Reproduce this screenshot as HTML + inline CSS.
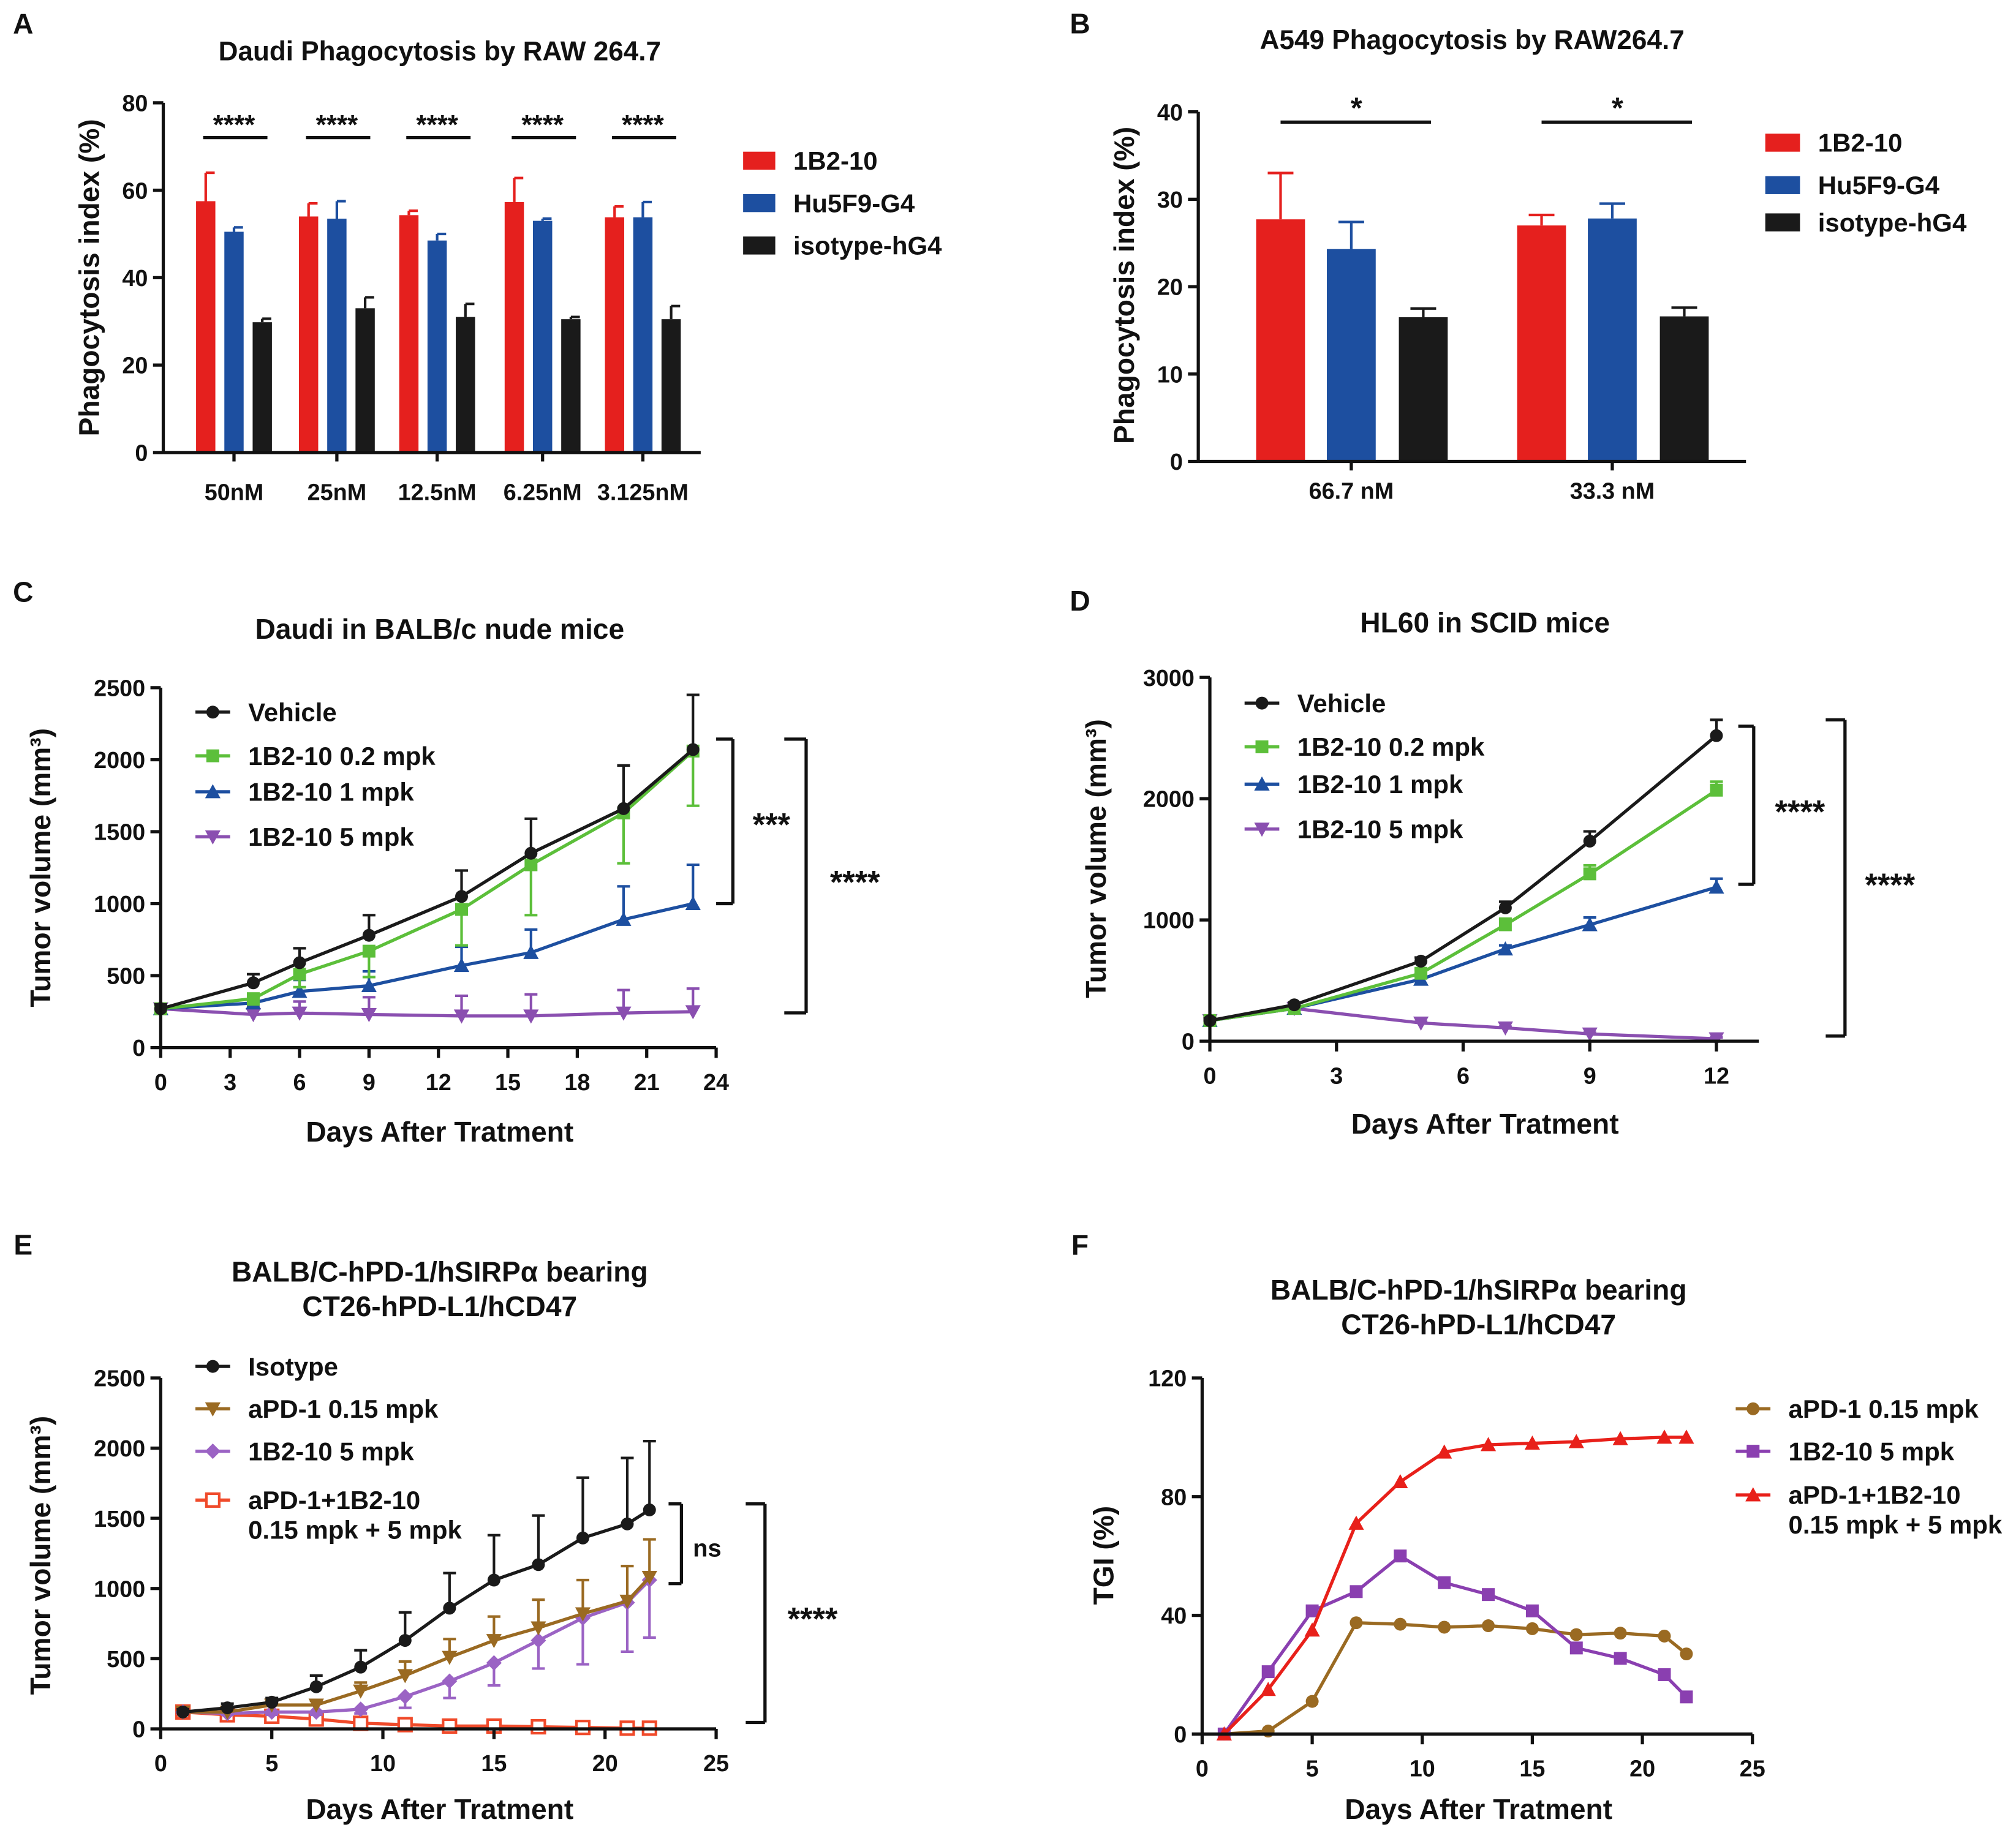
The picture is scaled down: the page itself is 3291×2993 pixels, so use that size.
<!DOCTYPE html>
<html><head><meta charset="utf-8">
<style>
html,body{margin:0;padding:0;background:#fff;}
svg{display:block;}
text{font-family:"Liberation Sans",Arial,sans-serif;font-weight:bold;fill:#111;}
</style></head>
<body>
<svg id="fig" width="3291" height="2993" viewBox="0 0 1568 1426" xmlns="http://www.w3.org/2000/svg"></svg>
<script>
// ---------- DATA ----------
const aCategories = ["50nM","25nM","12.5nM","6.25nM","3.125nM"];
const aRed = [57.5,54,54.3,57.3,53.8];
const aRedErr = [6.5,3,1,5.5,2.5];
const aBlue = [50.5,53.5,48.5,53,53.8];
const aBlueErr = [1,4,1.5,0.5,3.5];
const aBlack = [29.8,33,31,30.5,30.5];
const aBlackErr = [0.8,2.5,3,0.5,3];
const aTicks = [0,20,40,60,80];

const bCategories = ["66.7 nM","33.3 nM"];
const bRed = [27.7,27];
const bRedErr = [5.3,1.2];
const bBlue = [24.3,27.8];
const bBlueErr = [3.1,1.7];
const bBlack = [16.5,16.6];
const bBlackErr = [1,1];
const bTicks = [0,10,20,30,40];

const cDays = [0,4,6,9,13,16,20,23];
const cVehicle = [270,450,590,780,1050,1350,1660,2070];
const cVehicleErr = [30,60,100,140,180,240,300,380];
const cLow = [270,340,510,670,960,1270,1630,2060];
const cLowErr = [30,40,90,180,250,350,350,380];
const cMid = [270,310,390,430,570,660,890,1000];
const cMidErr = [30,40,80,100,130,160,230,270];
const cHigh = [270,230,240,230,220,220,240,250];
const cHighErr = [30,60,80,120,140,150,160,160];
const cXTicks = [0,3,6,9,12,15,18,21,24];
const cYTicks = [0,500,1000,1500,2000,2500];

const dDays = [0,2,5,7,9,12];
const dVehicle = [170,300,660,1100,1650,2520];
const dVehicleErr = [20,20,30,50,80,130];
const dLow = [170,270,560,960,1380,2070];
const dLowErr = [20,20,30,50,70,70];
const dMid = [170,270,510,760,960,1270];
const dMidErr = [20,20,30,30,60,70];
const dHigh = [170,270,150,110,60,20];
const dHighErr = [20,10,10,10,10,10];
const dXTicks = [0,3,6,9,12];
const dYTicks = [0,1000,2000,3000];

const eDays = [1,3,5,7,9,11,13,15,17,19,21,22];
const eIso = [120,150,190,300,440,630,860,1060,1170,1360,1460,1560];
const eIsoErr = [20,30,30,80,120,200,250,320,350,430,470,490];
const ePd1 = [120,120,170,170,270,380,510,630,720,820,910,1080];
const ePd1Err = [10,10,20,30,60,100,130,170,200,240,250,270];
const e1B2 = [120,110,120,120,140,230,340,470,630,790,900,1060];
const e1B2Err = [10,10,20,20,30,80,120,160,200,330,350,410];
const eCombo = [120,100,90,70,40,30,20,20,15,10,5,5];
const eComboErr = [10,10,10,10,10,10,10,10,10,10,5,5];
const eXTicks = [0,5,10,15,20,25];
const eYTicks = [0,500,1000,1500,2000,2500];

const fDays = [1,3,5,7,9,11,13,15,17,19,21,22];
const fPd1 = [0,1,11,37.5,37,36,36.5,35.5,33.5,34,33,27];
const f1B2 = [0,21,41.5,48,60,51,47,41.5,29,25.5,20,12.5];
const fCombo = [0,15,35,71,85,95,97.5,98,98.5,99.5,100,100];
const fXTicks = [0,5,10,15,20,25];
const fYTicks = [0,40,80,120];

// ---------- HELPERS ----------
const NS="http://www.w3.org/2000/svg";
const svg=document.getElementById('fig');
function mk(tag,attrs,name,parent){
  const el=document.createElementNS(NS,tag);
  for(const k in attrs) el.setAttribute(k,attrs[k]);
  
  
  (parent||svg).appendChild(el);
  return el;
}
function txt(x,y,s,size,name,anchor,extra){
  const a={x:x,y:y,'font-size':size,'text-anchor':anchor||'middle'};
  if(extra) for(const k in extra) a[k]=extra[k];
  const t=mk('text',a,name);
  t.textContent=s;
  return t;
}
function line(x1,y1,x2,y2,name,color,w){
  return mk('line',{x1:x1,y1:y1,x2:x2,y2:y2,stroke:color||'#111','stroke-width':w||2.5},name);
}
function lin(d0,d1,r0,r1){return v=>r0+(v-d0)/(d1-d0)*(r1-r0);}
function yAxis(x,y0,y1,ticks,sc,name){
  line(x,y0+1,x,y1,name+'-y-axis');
  ticks.forEach(t=>{const y=sc(t);line(x-8,y,x,y,name+'-y-tick');txt(x-12,y+6.5,String(t),18,name+'-y-tick-label','end');});
}
function xAxis(y,x0,x1,ticks,sc,name){
  line(x0,y,x1,y,name+'-x-axis');
  if(ticks) ticks.forEach(t=>{const x=sc(t);line(x,y,x,y+8,name+'-x-tick');txt(x,y+33,String(t),18,name+'-x-tick-label');});
}
function marker(type,x,y,color,name){
  const s=6;
  if(type==='circle') return mk('circle',{cx:x,cy:y,r:5,fill:color},name);
  if(type==='square') return mk('rect',{x:x-s+1,y:y-s+1,width:2*s-2,height:2*s-2,fill:color},name);
  if(type==='up') return mk('polygon',{points:`${x},${y-s} ${x-s},${y+s-1} ${x+s},${y+s-1}`,fill:color},name);
  if(type==='down') return mk('polygon',{points:`${x},${y+s} ${x-s},${y-s+1} ${x+s},${y-s+1}`,fill:color},name);
  if(type==='diamond') return mk('polygon',{points:`${x},${y-s} ${x+s},${y} ${x},${y+s} ${x-s},${y}`,fill:color},name);
  if(type==='hollowsquare') return mk('rect',{x:x-5,y:y-5,width:10,height:10,fill:'#fff',stroke:color,'stroke-width':2},name);
}
function series(days,vals,errs,sx,sy,color,mtype,name){
  if(errs) days.forEach((d,i)=>{
    const x=sx(d),y1=sy(vals[i]+errs[i]);
    line(x,sy(vals[i]),x,y1,name+'-error-bar',color,2);
    line(x-5,y1,x+5,y1,name+'-error-cap',color,2);
  });
  const pts=days.map((d,i)=>sx(d)+','+sy(vals[i])).join(' ');
  mk('polyline',{points:pts,fill:'none',stroke:color,'stroke-width':2.5},name+'-line');
  days.forEach((d,i)=>marker(mtype,sx(d),sy(vals[i]),color,name+'-point'));
}
function legendLine(x,y,color,mtype,label,name,label2){
  line(x,y,x+27,y,name+'-legend-line',color,2.5);
  marker(mtype,x+13.5,y,color,name+'-legend-marker');
  txt(x+41,y+7,label,20,name+'-legend-label','start');
  if(label2) txt(x+41,y+30,label2,20,name+'-legend-label-2','start');
}
function bracket(x,y0,y1,xl,label,lx,ly,name,size){
  line(xl,y0,x,y0,name+'-bracket-top');
  line(x,y0,x,y1,name+'-bracket-vertical');
  line(xl,y1,x,y1,name+'-bracket-bottom');
  txt(lx,ly,label,size||25,name+'-bracket-label','middle');
}
function yLabel(x,yc,s,name){
  const t=mk('text',{x:0,y:0,'font-size':22,'text-anchor':'middle',transform:`translate(${x},${yc}) rotate(-90)`},name);
  t.textContent=s; return t;
}
const RED='#e5201e',BLUE='#1d4fa0',BLACK='#1a1a1a';

// ---------- PANEL A ----------
txt(18,26,'A',22,'panel-a-letter','middle');
txt(342,47,'Daudi Phagocytosis by RAW 264.7',21,'panel-a-title');
{
 const sy=lin(0,80,352,80);
 const centers=[182,262,340,422,500];
 const groups=[[aRed,aRedErr,RED,-22],[aBlue,aBlueErr,BLUE,0],[aBlack,aBlackErr,BLACK,22]];
 groups.forEach(g=>{
   centers.forEach((c,i)=>{
     const x=c+g[3];const top=sy(g[0][i]);const et=sy(g[0][i]+g[1][i]);
     line(x,top,x,et,'panel-a-error-bar',g[2],2);
     line(x,et,x+7,et,'panel-a-error-cap',g[2],2);
     mk('rect',{x:x-7.5,y:top,width:15,height:352-top,fill:g[2]},'panel-a-bar');
   });
 });
 yAxis(127,352,80,aTicks,sy,'panel-a');
 line(127,352,545,352,'panel-a-x-axis');
 centers.forEach((c,i)=>{line(c,352,c,359,'panel-a-x-tick');txt(c,389,aCategories[i],18,'panel-a-x-tick-label');
   line(c-24,107,c+26,107,'panel-a-significance-line');txt(c,104,'****',21,'panel-a-significance-label');});
 yLabel(77,216,'Phagocytosis index (%)','panel-a-y-axis-title');
 [['1B2-10',RED,125],['Hu5F9-G4',BLUE,158],['isotype-hG4',BLACK,191]].forEach(l=>{
   mk('rect',{x:578,y:l[2]-7,width:25,height:14,fill:l[1]},'panel-a-legend-swatch');
   txt(617,l[2]+7,l[0],20,'panel-a-legend-label','start');});
}

// ---------- PANEL B ----------
txt(840,26,'B',22,'panel-b-letter','middle');
txt(1145,38,'A549 Phagocytosis by RAW264.7',21,'panel-b-title');
{
 const sy=lin(0,40,359,87);
 const centers=[1051,1254];
 const groups=[[bRed,bRedErr,RED,-55],[bBlue,bBlueErr,BLUE,0],[bBlack,bBlackErr,BLACK,56]];
 groups.forEach(g=>{
   centers.forEach((c,i)=>{
     const x=c+g[3];const top=sy(g[0][i]);const et=sy(g[0][i]+g[1][i]);
     line(x,top,x,et,'panel-b-error-bar',g[2],2);
     line(x-10,et,x+10,et,'panel-b-error-cap',g[2],2);
     mk('rect',{x:x-19,y:top,width:38,height:359-top,fill:g[2]},'panel-b-bar');
   });
 });
 yAxis(932,359,87,bTicks,sy,'panel-b');
 line(932,359,1358,359,'panel-b-x-axis');
 centers.forEach((c,i)=>{line(c,359,c,366,'panel-b-x-tick');txt(c,388,bCategories[i],18,'panel-b-x-tick-label');
   line(c-55,95,c+62,95,'panel-b-significance-line');txt(c+4,92,'*',23,'panel-b-significance-label');});
 yLabel(882,222,'Phagocytosis index (%)','panel-b-y-axis-title');
 [['1B2-10',RED,111],['Hu5F9-G4',BLUE,144],['isotype-hG4',BLACK,173]].forEach(l=>{
   mk('rect',{x:1373,y:l[2]-7,width:27,height:14,fill:l[1]},'panel-b-legend-swatch');
   txt(1414,l[2]+7,l[0],20,'panel-b-legend-label','start');});
}

// ---------- PANEL C ----------
txt(18,468,'C',22,'panel-c-letter','middle');
txt(342,497,'Daudi in BALB/c nude mice',22,'panel-c-title');
{
 const sx=lin(0,24,125,557), sy=lin(0,2500,815,535);
 series(cDays,cHigh,cHighErr,sx,sy,'#8a4fb0','down','panel-c-5mpk');
 series(cDays,cMid,cMidErr,sx,sy,BLUE,'up','panel-c-1mpk');
 series(cDays,cLow,cLowErr.map(v=>-v),sx,sy,'#5cbf3a','square','panel-c-02mpk');
 series(cDays,cVehicle,cVehicleErr,sx,sy,BLACK,'circle','panel-c-vehicle');
 yAxis(125,815,535,cYTicks,sy,'panel-c');
 xAxis(815,124,557,cXTicks,sx,'panel-c');
 legendLine(152,554,BLACK,'circle','Vehicle','panel-c-vehicle');
 legendLine(152,588,'#5cbf3a','square','1B2-10 0.2 mpk','panel-c-02mpk');
 legendLine(152,616,BLUE,'up','1B2-10 1 mpk','panel-c-1mpk');
 legendLine(152,651,'#8a4fb0','down','1B2-10 5 mpk','panel-c-5mpk');
 bracket(570,575,703,557,'***',600,650,'panel-c-vs-1mpk');
 bracket(627,575,788,610,'****',665,695,'panel-c-vs-5mpk');
 yLabel(39,675,'Tumor volume  (mm³)','panel-c-y-axis-title');
 txt(342,888,'Days After Tratment',22,'panel-c-x-axis-title');
}

// ---------- PANEL D ----------
txt(840,475,'D',22,'panel-d-letter','middle');
txt(1155,492,'HL60 in SCID mice',22,'panel-d-title');
{
 const sx=lin(0,12,941,1335), sy=lin(0,3000,810,527);
 series(dDays,dHigh,dHighErr,sx,sy,'#8a4fb0','down','panel-d-5mpk');
 series(dDays,dMid,dMidErr,sx,sy,BLUE,'up','panel-d-1mpk');
 series(dDays,dLow,dLowErr,sx,sy,'#5cbf3a','square','panel-d-02mpk');
 series(dDays,dVehicle,dVehicleErr,sx,sy,BLACK,'circle','panel-d-vehicle');
 yAxis(941,810,527,dYTicks,sy,'panel-d');
 xAxis(810,940,1368,dXTicks,sx,'panel-d');
 legendLine(968,547,BLACK,'circle','Vehicle','panel-d-vehicle');
 legendLine(968,581,'#5cbf3a','square','1B2-10 0.2 mpk','panel-d-02mpk');
 legendLine(968,610,BLUE,'up','1B2-10 1 mpk','panel-d-1mpk');
 legendLine(968,645,'#8a4fb0','down','1B2-10 5 mpk','panel-d-5mpk');
 bracket(1364,565,688,1352,'****',1400,640,'panel-d-vs-1mpk');
 bracket(1435,560,806,1420,'****',1470,697,'panel-d-vs-5mpk');
 yLabel(860,668,'Tumor volume (mm³)','panel-d-y-axis-title');
 txt(1155,882,'Days After Tratment',22,'panel-d-x-axis-title');
}

// ---------- PANEL E ----------
txt(18,976,'E',22,'panel-e-letter','middle');
txt(342,997,'BALB/C-hPD-1/hSIRPα bearing',22,'panel-e-title-line-1');
txt(342,1024,'CT26-hPD-L1/hCD47',22,'panel-e-title-line-2');
{
 const sx=lin(0,25,125,557), sy=lin(0,2500,1345,1072);
 series(eDays,eCombo,eComboErr,sx,sy,'#f04a2a','hollowsquare','panel-e-combo');
 series(eDays,e1B2,e1B2Err.map(v=>-v),sx,sy,'#9b63c4','diamond','panel-e-1b2');
 series(eDays,ePd1,ePd1Err,sx,sy,'#9a6a22','down','panel-e-apd1');
 series(eDays,eIso,eIsoErr,sx,sy,BLACK,'circle','panel-e-isotype');
 yAxis(125,1345,1072,eYTicks,sy,'panel-e');
 xAxis(1345,124,557,eXTicks,sx,'panel-e');
 legendLine(152,1063,BLACK,'circle','Isotype','panel-e-isotype');
 legendLine(152,1096,'#9a6a22','down','aPD-1 0.15 mpk','panel-e-apd1');
 legendLine(152,1129,'#9b63c4','diamond','1B2-10 5 mpk','panel-e-1b2');
 legendLine(152,1167,'#f04a2a','hollowsquare','aPD-1+1B2-10','panel-e-combo','0.15 mpk + 5 mpk');
 bracket(530,1170,1232,520,'ns',550,1211,'panel-e-ns',19);
 bracket(595,1170,1340,580,'****',632,1268,'panel-e-combo-vs-iso');
 yLabel(39,1210,'Tumor volume (mm³)','panel-e-y-axis-title');
 txt(342,1415,'Days After Tratment',22,'panel-e-x-axis-title');
}

// ---------- PANEL F ----------
txt(840,976,'F',22,'panel-f-letter','middle');
txt(1150,1011,'BALB/C-hPD-1/hSIRPα bearing',22,'panel-f-title-line-1');
txt(1150,1038,'CT26-hPD-L1/hCD47',22,'panel-f-title-line-2');
{
 const sx=lin(0,25,935,1363), sy=lin(0,120,1349,1072);
 series(fDays,fPd1,null,sx,sy,'#9a6a22','circle','panel-f-apd1');
 series(fDays,f1B2,null,sx,sy,'#8a3fb0','square','panel-f-1b2');
 series(fDays,fCombo,null,sx,sy,'#e8201a','up','panel-f-combo');
 yAxis(935,1349,1072,fYTicks,sy,'panel-f');
 xAxis(1349,934,1363,fXTicks,sx,'panel-f');
 legendLine(1350,1096,'#9a6a22','circle','aPD-1 0.15 mpk','panel-f-apd1');
 legendLine(1350,1129,'#8a3fb0','square','1B2-10 5 mpk','panel-f-1b2');
 legendLine(1350,1163,'#e8201a','up','aPD-1+1B2-10','panel-f-combo','0.15 mpk + 5 mpk');
 yLabel(866,1210,'TGI (%)','panel-f-y-axis-title');
 txt(1150,1415,'Days After Tratment',22,'panel-f-x-axis-title');
}
</script>
</body></html>
